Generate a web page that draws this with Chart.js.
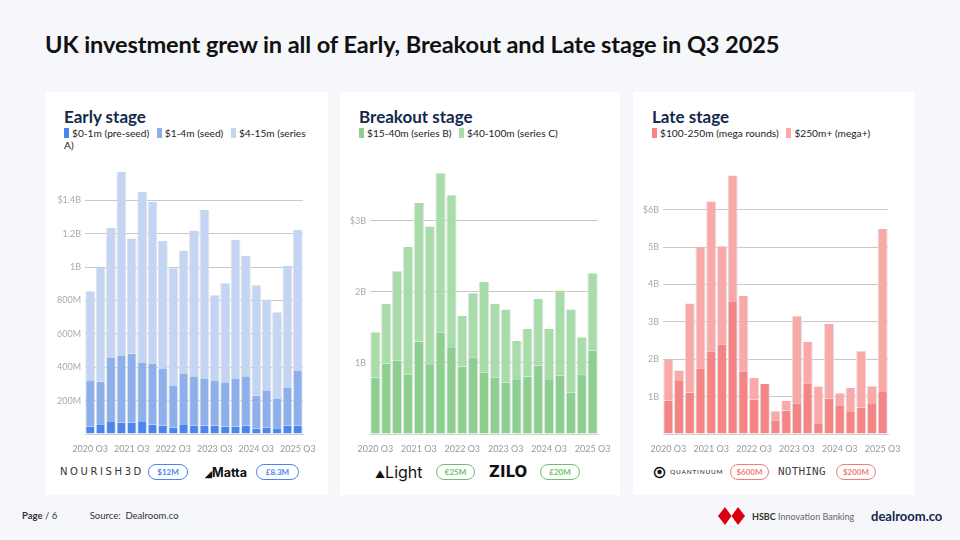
<!DOCTYPE html>
<html>
<head>
<meta charset="utf-8">
<script src="https://cdn.jsdelivr.net/npm/chart.js@4.4.1/dist/chart.umd.min.js"></script>
<style>
  html,body{margin:0;padding:0;}
  body{width:960px;height:540px;background:#f6f7fa;font-family:Lato,"Noto Sans",sans-serif;position:relative;overflow:hidden;color:#222;}
  h1{position:absolute;left:45px;top:30px;margin:0;font-size:23.6px;font-weight:700;color:#111;letter-spacing:-0.1px;}
  .card{position:absolute;top:92px;height:403px;background:#fff;}
  .card h2{position:absolute;left:19px;top:14px;margin:0;font-size:17px;font-weight:700;color:#13294b;}
  .legend{position:absolute;left:19px;top:35px;font-size:10.2px;line-height:12px;color:#222;}
  .legend span.sw{display:inline-block;width:5px;height:10px;vertical-align:-1px;margin-right:3px;}
  .legend .it{margin-right:5px;}
  .box{position:absolute;top:58px;}
  .logos{position:absolute;top:372px;left:0;right:0;height:20px;font-size:10px;}
  .logos .l{position:absolute;top:2px;white-space:nowrap;}
  .badge{position:absolute;top:0;height:16px;border-radius:9px;border:1.2px solid;font-size:8px;font-weight:700;text-align:center;line-height:14px;box-sizing:border-box;}
  #foot{position:absolute;top:510px;left:22px;font-size:9.5px;color:#333;}
</style>
</head>
<body>
<h1>UK investment grew in all of Early, Breakout and Late stage in Q3 2025</h1>

<div class="card" id="c1" style="left:45px;width:283px;">
  <h2>Early stage</h2>
  <div class="legend" style="width:252px;">
    <span class="it"><span class="sw" style="background:#4a86ee"></span>$0-1m (pre-seed)</span>
    <span class="it"><span class="sw" style="background:#8eb0ea"></span>$1-4m (seed)</span>
    <span class="it"><span class="sw" style="background:#c4d4f3"></span>$4-15m (series A)</span>
  </div>
  <div class="box" style="left:0;width:283px;height:302px;"><canvas id="early"></canvas></div>
  <div class="logos">
    <div class="l" style="left:15px;letter-spacing:2.6px;font-size:10px;color:#333;font-family:'DejaVu Sans';">NOURISH3D</div>
    <div class="badge" style="left:103px;width:40px;color:#4a86ee;border-color:#4a86ee;">$12M</div>
    <div class="l" style="left:160px;top:1px;font-size:12.5px;font-weight:700;color:#111;font-family:Inter;"><span style="font-size:9px;">&#9698;</span>Matta</div>
    <div class="badge" style="left:211px;width:43px;color:#4a86ee;border-color:#4a86ee;">£8.3M</div>
  </div>
</div>

<div class="card" id="c2" style="left:340px;width:280px;">
  <h2>Breakout stage</h2>
  <div class="legend">
    <span class="it"><span class="sw" style="background:#8ccf8f"></span>$15-40m (series B)</span>
    <span class="it"><span class="sw" style="background:#a8dca9"></span>$40-100m (series C)</span>
  </div>
  <div class="box" style="left:0;width:280px;height:302px;"><canvas id="breakout"></canvas></div>
  <div class="logos">
    <div class="l" style="left:35px;top:-2px;font-size:16px;color:#111;font-family:Inter;"><span style="font-size:10px;">&#9650;</span>Light</div>
    <div class="badge" style="left:96px;width:39px;color:#6cc070;border-color:#6cc070;">€25M</div>
    <div class="l" style="left:149px;top:-1px;font-size:15px;font-weight:700;color:#111;font-family:'DejaVu Sans';">ZILO</div>
    <div class="badge" style="left:200px;width:40px;color:#6cc070;border-color:#6cc070;">£20M</div>
  </div>
</div>

<div class="card" id="c3" style="left:633px;width:282px;">
  <h2>Late stage</h2>
  <div class="legend">
    <span class="it"><span class="sw" style="background:#f48584"></span>$100-250m (mega rounds)</span>
    <span class="it"><span class="sw" style="background:#f9a9a8"></span>$250m+ (mega+)</span>
  </div>
  <div class="box" style="left:0;width:282px;height:302px;"><canvas id="late"></canvas></div>
  <div class="logos">
    <div class="l" style="left:20px;top:0;font-size:13px;font-weight:900;color:#111;">&#10687;</div>
    <div class="l" style="left:37px;top:4px;font-size:6.5px;letter-spacing:0.8px;color:#222;">QUANTINUUM</div>
    <div class="badge" style="left:97px;width:39px;color:#f27b7b;border-color:#f27b7b;">$600M</div>
    <div class="l" style="left:145px;top:1px;font-size:11px;color:#444;font-family:'DejaVu Sans Mono';letter-spacing:0.2px;">NOTHING</div>
    <div class="badge" style="left:203px;width:40px;color:#f27b7b;border-color:#f27b7b;">$200M</div>
  </div>
</div>

<div id="foot"><b>Page</b> / 6 <span style="margin-left:30px;">Source:&nbsp; Dealroom.co</span></div>
<div style="position:absolute;left:718px;top:507px;width:27px;height:18px;">
  <svg width="27" height="18" viewBox="0 0 27 18"><polygon points="0,9 7,0 20,0 27,9 20,18 7,18" fill="#db0011"/><polygon points="7,0 20,0 13.5,9" fill="#fff"/><polygon points="7,18 20,18 13.5,9" fill="#fff"/></svg>
</div>
<div style="position:absolute;left:752px;top:511px;font-size:9px;color:#333;"><b>HSBC</b> <span style="color:#666;">Innovation Banking</span></div>
<div style="position:absolute;left:871px;top:508px;font-size:13px;font-weight:700;color:#13294b;">dealroom.co</div>

<script>
const quarters = ["2020 Q3","2020 Q4","2021 Q1","2021 Q2","2021 Q3","2021 Q4","2022 Q1","2022 Q2","2022 Q3","2022 Q4","2023 Q1","2023 Q2","2023 Q3","2023 Q4","2024 Q1","2024 Q2","2024 Q3","2024 Q4","2025 Q1","2025 Q2","2025 Q3"];

// early stage, $M
const preSeed = [44,58,72,68,68,72,56,50,38,54,50,50,50,44,44,50,32,38,34,50,50];
const seed    = [278,256,388,404,414,354,364,344,250,306,292,284,272,266,286,296,198,224,176,230,328];
const seriesA = [534,686,774,1098,690,1026,972,762,706,740,878,1008,510,594,834,722,662,544,520,726,844];

// breakout stage, $B
const seriesB = [0.79,0.99,1.03,0.84,1.30,0.97,1.43,1.21,0.95,1.08,0.86,0.80,0.72,0.76,0.81,0.96,0.76,0.82,0.58,0.84,1.17];
const seriesC = [0.64,0.84,1.26,1.79,1.95,1.95,2.24,2.15,0.71,0.90,1.28,1.03,1.03,0.55,0.67,0.94,0.72,1.20,1.17,0.52,1.09];

// late stage, $B
const mega     = [0.89,1.42,1.10,1.76,2.21,2.40,3.53,1.68,0.92,1.34,0.37,0.63,0.82,1.36,0.27,0.94,0.75,0.59,0.70,0.80,1.12];
const megaPlus = [1.10,0.28,2.39,3.24,4.01,2.62,3.38,2.02,0.58,0,0.24,0.25,2.33,1.10,1.00,2.01,0.34,0.64,1.51,0.48,4.36];

const tickFont = {family:"Lato", size:9};
const tickColor = "#aaaaaa";

function makeChart(id, sets, yMax, yStep, yWidth, padTop, padRight, gridTop, fmt){
  return new Chart(document.getElementById(id), {
    type:"bar",
    data:{ labels:quarters, datasets:sets.map(s=>({
      label:s.label, data:s.data, backgroundColor:s.color,
      borderColor:"#dfe1e5", borderWidth:{left:1,right:1,top:0,bottom:0}, borderSkipped:false,
      barPercentage:0.94, categoryPercentage:1
    }))},
    options:{
      responsive:true, maintainAspectRatio:false, animation:false,
      layout:{padding:{top:padTop,right:padRight,left:0,bottom:0}},
      plugins:{legend:{display:false}, tooltip:{enabled:false}},
      scales:{
        x:{
          stacked:true,
          grid:{display:false},
          border:{display:true,color:"#d0d0d0"},
          ticks:{autoSkip:false,maxRotation:0,font:tickFont,color:"#999",padding:2,
            callback:(v,i)=> i%4===0 ? quarters[i] : ""},
          afterFit:s=>{s.height=18;}
        },
        y:{
          stacked:true, min:0, max:yMax,
          grid:{color:c=>(c.tick.value===0||c.tick.value>gridTop)?"rgba(0,0,0,0)":"#c9c9c9", lineWidth:1, drawTicks:false},
          border:{display:false},
          ticks:{stepSize:yStep, includeBounds:false, font:tickFont, color:tickColor, padding:4,
            callback:v=>fmt(v)},
          afterFit:s=>{s.width=yWidth;}
        }
      }
    }
  });
}

makeChart("early", [
  {label:"$0-1m (pre-seed)", data:preSeed, color:"#4a86ee"},
  {label:"$1-4m (seed)", data:seed, color:"#8eb0ea"},
  {label:"$4-15m (series A)", data:seriesA, color:"#c4d4f3"}
], 1600, 200, 40, 17, 25, 1400, v=>{
  if(v===0 || v>1400) return "";
  if(v>=1000){ const s=(v/1000)+"B"; return v===1400 ? "$"+s : s; }
  return v+"M";
});

makeChart("breakout", [
  {label:"$15-40m (series B)", data:seriesB, color:"#8ccf8f"},
  {label:"$40-100m (series C)", data:seriesC, color:"#a8dca9"}
], 3.7, 1, 30, 21, 22, 3, v=>{
  if(v===0) return "";
  return (v===3?"$":"")+v+"B";
});

makeChart("late", [
  {label:"$100-250m (mega rounds)", data:mega, color:"#f48584"},
  {label:"$250m+ (mega+)", data:megaPlus, color:"#f9a9a8"}
], 6.98, 1, 30, 23, 27, 6, v=>{
  if(v===0) return "";
  return (v===6?"$":"")+v+"B";
});
</script>
</body>
</html>
